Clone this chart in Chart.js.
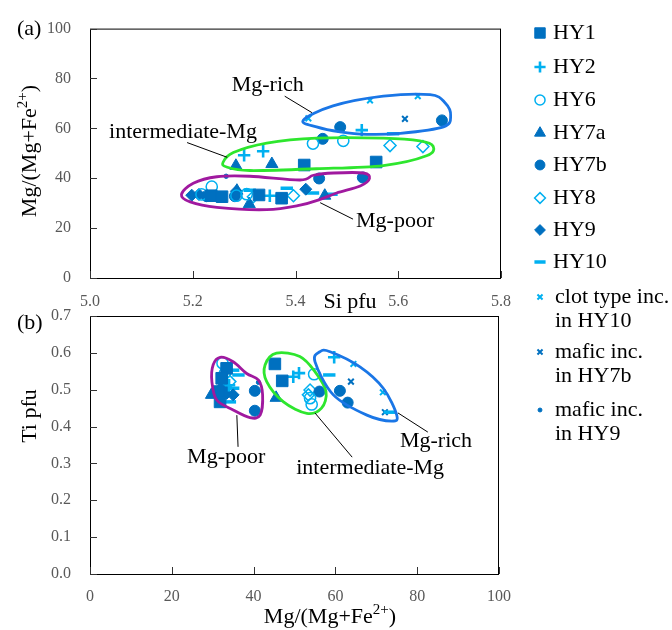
<!DOCTYPE html>
<html lang="en">

<head>
  <meta charset="UTF-8" />
  <title>Mg-number, Si and Ti of amphiboles</title>
  <style>
    body {
      margin: 0;
      background: #ffffff;
    }

    .wrap {
      position: relative;
      width: 672px;
      height: 630px;
    }

    .wrap canvas {
      position: absolute;
      left: 0;
      top: 0;
    }
  </style>
</head>

<body>
  <div class="wrap">
    <canvas id="chartA" width="672" height="630"></canvas>
    <canvas id="chartB" width="672" height="630"></canvas>
  </div>

  <script src="https://cdn.jsdelivr.net/npm/chart.js@4"></script>
  <script>
    // ---- data, panel (a): [Si pfu, Mg/(Mg+Fe2+)] ----
    const hy1A = [[5.236, 33.0], [5.257, 32.6], [5.329, 33.3], [5.373, 32.0], [5.417, 45.3], [5.557, 46.5]];
    const hy2A = [[5.300, 49.2], [5.337, 50.8], [5.529, 59.3], [5.350, 33.0]];
    const hy6A = [[5.217, 33.5], [5.237, 36.6], [5.285, 33.0], [5.305, 33.6], [5.434, 53.9], [5.493, 55.0]];
    const hy7aA = [[5.284, 45.0], [5.354, 45.7], [5.310, 29.6], [5.457, 33.0], [5.286, 35.0]];
    const hy7bA = [[5.227, 32.8], [5.282, 32.8], [5.446, 39.9], [5.531, 40.3], [5.453, 55.8], [5.487, 60.5], [5.685, 63.2]];
    const hy8A = [[5.318, 32.6], [5.396, 33.0], [5.584, 53.1], [5.648, 52.7]];
    const hy9A = [[5.198, 33.2], [5.212, 33.5], [5.285, 34.8], [5.420, 35.6]];
    const hy10A = [[5.311, 35.2], [5.383, 36.0], [5.434, 34.1], [5.470, 33.6], [5.590, 57.8]];
    const clotA = [[5.425, 64.0], [5.545, 71.2], [5.638, 72.9]];
    const mafic7bA = [[5.613, 63.8]];
    const mafic9A = [[5.265, 40.8]];

    // ---- data, panel (b): [Mg/(Mg+Fe2+), Ti pfu] ----
    const hy1B = [[33.4, 0.558], [32.2, 0.531], [31.4, 0.495], [31.8, 0.467], [45.2, 0.570], [47.0, 0.524]];
    const hy2B = [[34.0, 0.512], [49.7, 0.535], [51.1, 0.545], [59.7, 0.588]];
    const hy6B = [[32.4, 0.572], [33.0, 0.545], [54.8, 0.542], [54.2, 0.460], [53.8, 0.477]];
    const hy7aB = [[29.7, 0.486], [32.5, 0.500], [45.5, 0.478]];
    const hy7bB = [[32.4, 0.504], [40.3, 0.497], [40.3, 0.443], [56.1, 0.495], [61.1, 0.497], [63.0, 0.465]];
    const hy8B = [[34.2, 0.522], [53.8, 0.499], [53.4, 0.486]];
    const hy9B = [[35.0, 0.486], [33.4, 0.490]];
    const hy10B = [[35.0, 0.553], [36.3, 0.540], [35.0, 0.504], [34.2, 0.467], [58.5, 0.540], [73.3, 0.439]];
    const clotB = [[64.4, 0.570], [71.6, 0.493]];
    const mafic7bB = [[63.8, 0.522], [72.1, 0.439]];
    const mafic9B = [[41.2, 0.520]];

    // tick values
    const siTicks = [5.0, 5.2, 5.4, 5.6, 5.8];
    const mgTicks = [0, 20, 40, 60, 80, 100];
    const tiTicks = [0, 0.1, 0.2, 0.3, 0.4, 0.5, 0.6, 0.7];

    // group outlines (data coords)
    const richA = [[5.415, 63.2], [5.473, 69.0], [5.571, 72.9], [5.662, 73.5], [5.691, 70.3], [5.702, 65.1], [5.688, 60.6], [5.604, 58.0], [5.539, 57.6], [5.487, 58.6], [5.441, 60.6]];
    const interA = [[5.259, 46.4], [5.279, 50.3], [5.344, 54.1], [5.441, 56.1], [5.571, 56.1], [5.642, 55.0], [5.668, 52.8], [5.655, 49.0], [5.571, 45.1], [5.441, 43.8], [5.311, 43.1], [5.266, 44.5]];
    const poorA = [[5.178, 33.5], [5.201, 38.0], [5.247, 40.6], [5.311, 40.8], [5.409, 39.3], [5.435, 41.2], [5.474, 42.1], [5.532, 42.1], [5.544, 39.9], [5.526, 36.9], [5.480, 34.1], [5.448, 31.5], [5.409, 29.2], [5.344, 27.4], [5.247, 28.3], [5.195, 30.5]];
    const poorB = [[31.8, 0.588], [35.0, 0.576], [38.3, 0.544], [41.2, 0.526], [42.2, 0.486], [41.6, 0.431], [39.1, 0.424], [35.0, 0.445], [31.0, 0.472], [29.8, 0.522], [30.1, 0.567]];
    const interB = [[45.6, 0.599], [51.3, 0.590], [55.0, 0.549], [57.7, 0.495], [56.6, 0.450], [53.0, 0.436], [47.3, 0.467], [43.2, 0.522], [42.8, 0.567]];
    const richB = [[56.2, 0.603], [58.7, 0.603], [66.0, 0.562], [71.7, 0.504], [75.0, 0.431], [73.8, 0.415], [67.7, 0.431], [59.5, 0.486], [55.0, 0.576]];

    const DARK = '#0070C0';
    const LIGHT = '#00B0F0';
    const SERIF = "'Liberation Serif', 'Times New Roman', serif";
    const TICK_GREY = '#595959';

    const series = [
      { label: ['HY1'], a: hy1A, b: hy1B, style: 'rect', r: 8.2, bw: 1, color: DARK, fill: DARK },
      { label: ['HY2'], a: hy2A, b: hy2B, style: 'cross', r: 6.2, bw: 2.6, color: LIGHT, fill: LIGHT },
      { label: ['HY6'], a: hy6A, b: hy6B, style: 'circle', r: 5.6, bw: 1.5, color: LIGHT, fill: 'rgba(0,0,0,0)' },
      { label: ['HY7a'], a: hy7aA, b: hy7aB, style: 'triangle', r: 7, bw: 1, color: DARK, fill: DARK },
      { label: ['HY7b'], a: hy7bA, b: hy7bB, style: 'circle', r: 5.5, bw: 1, color: DARK, fill: DARK },
      { label: ['HY8'], a: hy8A, b: hy8B, style: 'rectRot', r: 6, bw: 1.5, color: LIGHT, fill: 'rgba(0,0,0,0)' },
      { label: ['HY9'], a: hy9A, b: hy9B, style: 'rectRot', r: 6, bw: 1, color: DARK, fill: DARK },
      { label: ['HY10'], a: hy10A, b: hy10B, style: 'line', r: 6.2, bw: 3.5, color: LIGHT, fill: LIGHT },
      { label: ['clot type inc.', 'in HY10'], a: clotA, b: clotB, style: 'crossRot', r: 4, bw: 2, color: LIGHT, fill: LIGHT },
      { label: ['mafic inc.', 'in HY7b'], a: mafic7bA, b: mafic7bB, style: 'crossRot', r: 4, bw: 2, color: DARK, fill: DARK },
      { label: ['mafic inc.', 'in HY9'], a: mafic9A, b: mafic9B, style: 'circle', r: 2.2, bw: 1, color: DARK, fill: DARK }
    ];

    const legendRows = [33, 67, 100, 133, 165, 198, 230, 262, 297, 352, 410];

    function makeDatasets(key) {
      return series.map(s => ({
        label: s.label.join(' '),
        data: s[key].map(p => ({ x: p[0], y: p[1] })),
        showLine: false,
        pointStyle: s.style,
        pointRadius: s.r,
        pointBorderWidth: s.bw,
        pointBorderColor: s.color,
        pointBackgroundColor: s.fill
      }));
    }

    function closedCurve(ctx, pts) {
      const n = pts.length;
      ctx.beginPath();
      ctx.moveTo(pts[0][0], pts[0][1]);
      for (let i = 0; i < n; i++) {
        const p0 = pts[(i - 1 + n) % n], p1 = pts[i], p2 = pts[(i + 1) % n], p3 = pts[(i + 2) % n];
        ctx.bezierCurveTo(
          p1[0] + (p2[0] - p0[0]) / 6, p1[1] + (p2[1] - p0[1]) / 6,
          p2[0] - (p3[0] - p1[0]) / 6, p2[1] - (p3[1] - p1[1]) / 6,
          p2[0], p2[1]);
      }
      ctx.closePath();
      ctx.stroke();
    }

    // text with optional superscript parts, centred on (x, y) baseline
    function richText(ctx, parts, x, y, rotate) {
      ctx.save();
      ctx.translate(x, y);
      if (rotate) ctx.rotate(-Math.PI / 2);
      ctx.fillStyle = '#000';
      ctx.textAlign = 'left';
      ctx.textBaseline = 'alphabetic';
      let w = 0;
      parts.forEach(p => {
        ctx.font = (p[1] ? '15px ' : '22px ') + SERIF;
        w += ctx.measureText(p[0]).width;
      });
      let cx = -w / 2;
      parts.forEach(p => {
        ctx.font = (p[1] ? '15px ' : '22px ') + SERIF;
        ctx.fillText(p[0], cx, p[1] ? -9 : 0);
        cx += ctx.measureText(p[0]).width;
      });
      ctx.restore();
    }

    const MG_TITLE = [['Mg/(Mg+Fe', false], ['2+', true], [')', false]];

    const deco = {
      id: 'deco',
      afterDatasetsDraw(chart, args, opts) {
        const { ctx, scales: { x, y } } = chart;
        ctx.save();
        ctx.lineWidth = 2.8;
        ctx.lineJoin = 'round';
        opts.outlines.forEach(o => {
          ctx.strokeStyle = o.color;
          closedCurve(ctx, o.pts.map(p => [x.getPixelForValue(p[0]), y.getPixelForValue(p[1])]));
        });
        ctx.restore();
      },
      afterDraw(chart, args, opts) {
        const { ctx, chartArea: a, scales: { x, y } } = chart;
        ctx.save();
        // frame
        ctx.strokeStyle = '#000';
        ctx.lineWidth = 1;
        ctx.strokeRect(a.left + 0.5, a.top + 0.5, a.right - a.left - 1, a.bottom - a.top);
        // inward tick marks
        ctx.strokeStyle = '#333';
        ctx.beginPath();
        y.ticks.forEach(t => {
          const py = Math.round(y.getPixelForValue(t.value)) + 0.5;
          ctx.moveTo(a.left, py);
          ctx.lineTo(a.left + 7, py);
        });
        x.ticks.forEach(t => {
          const px = Math.round(x.getPixelForValue(t.value)) + 0.5;
          ctx.moveTo(px, a.bottom);
          ctx.lineTo(px, a.bottom - 7);
        });
        ctx.stroke();

        // group notes with leader lines
        ctx.strokeStyle = '#000';
        ctx.lineWidth = 1;
        ctx.fillStyle = '#000';
        ctx.font = '22px ' + SERIF;
        ctx.textAlign = 'center';
        ctx.textBaseline = 'middle';
        opts.notes.forEach(n => {
          ctx.fillText(n.text, x.getPixelForValue(n.at[0]), y.getPixelForValue(n.at[1]));
          ctx.beginPath();
          ctx.moveTo(x.getPixelForValue(n.from[0]), y.getPixelForValue(n.from[1]));
          ctx.lineTo(x.getPixelForValue(n.to[0]), y.getPixelForValue(n.to[1]));
          ctx.stroke();
        });

        // panel letter and axis titles
        ctx.textAlign = 'left';
        ctx.textBaseline = 'alphabetic';
        ctx.fillText(opts.panel, 17, opts.panelY);
        opts.titles.forEach(t => richText(ctx, t.parts, t.x, t.y, t.rotate));

        // legend (drawn once, by panel a)
        if (opts.legend) {
          series.forEach((s, i) => {
            const ly = legendRows[i];
            ctx.lineWidth = s.bw;
            ctx.strokeStyle = s.color;
            ctx.fillStyle = s.fill;
            Chart.helpers.drawPoint(ctx, { pointStyle: s.style, radius: s.r * 0.9, borderWidth: s.bw, rotation: 0 }, 540, ly);
            ctx.fillStyle = '#000';
            ctx.font = '22px ' + SERIF;
            ctx.textAlign = 'left';
            ctx.textBaseline = 'middle';
            s.label.forEach((line, k) => ctx.fillText(line, s.label.length > 1 ? 555 : 553, ly + k * 24.5));
          });
        }
        ctx.restore();
      }
    };

    function axis(ticksList, fmt, fit, pad) {
      return {
        type: 'linear',
        min: ticksList[0],
        max: ticksList[ticksList.length - 1],
        afterBuildTicks: scale => { scale.ticks = ticksList.map(v => ({ value: v })); },
        afterFit: fit,
        grid: { display: false, drawTicks: false },
        border: { display: false },
        ticks: {
          padding: pad,
          color: TICK_GREY,
          font: { family: SERIF, size: 16 },
          callback: fmt
        }
      };
    }

    const oneDecimal = v => Number(v).toFixed(1);
    const whole = v => String(Math.round(v));

    new Chart(document.getElementById('chartA'), {
      type: 'scatter',
      data: { datasets: makeDatasets('a') },
      options: {
        responsive: false,
        animation: false,
        events: [],
        layout: { padding: { left: 0, top: 20, right: 171, bottom: 322 } },
        scales: {
          x: axis(siTicks, oneDecimal, s => { s.height = 30; }, 14),
          y: axis(mgTicks, whole, s => { s.width = 90; }, 19)
        },
        plugins: {
          legend: { display: false },
          tooltip: { enabled: false },
          deco: {
            panel: '(a)',
            panelY: 35,
            legend: true,
            outlines: [
              { pts: richA, color: '#1A76E6' },
              { pts: interA, color: '#2EE62E' },
              { pts: poorA, color: '#A0199F' }
            ],
            notes: [
              { text: 'Mg-rich', at: [5.346, 77.1], from: [5.379, 72.9], to: [5.432, 66.3] },
              { text: 'intermediate-Mg', at: [5.181, 58.5], from: [5.189, 54.3], to: [5.267, 48.4] },
              { text: 'Mg-poor', at: [5.594, 22.9], from: [5.512, 23.6], to: [5.448, 30.2] }
            ],
            titles: [
              { parts: MG_TITLE, x: 36, y: 151, rotate: true },
              { parts: [['Si pfu', false]], x: 350, y: 308, rotate: false }
            ]
          }
        }
      },
      plugins: [deco]
    });

    new Chart(document.getElementById('chartB'), {
      type: 'scatter',
      data: { datasets: makeDatasets('b') },
      options: {
        responsive: false,
        animation: false,
        events: [],
        layout: { padding: { left: 0, top: 316, right: 173, bottom: 26 } },
        scales: {
          x: axis(mgTicks, whole, s => { s.height = 30; }, 13),
          y: axis(tiTicks, oneDecimal, s => { s.width = 90; }, 19)
        },
        plugins: {
          legend: { display: false },
          tooltip: { enabled: false },
          deco: {
            panel: '(b)',
            panelY: 329,
            legend: false,
            outlines: [
              { pts: poorB, color: '#A0199F' },
              { pts: interB, color: '#2EE62E' },
              { pts: richB, color: '#1A76E6' }
            ],
            notes: [
              { text: 'Mg-poor', at: [33.3, 0.317], from: [35.9, 0.431], to: [36.2, 0.345] },
              { text: 'intermediate-Mg', at: [68.5, 0.288], from: [55.0, 0.437], to: [64.1, 0.317] },
              { text: 'Mg-rich', at: [84.6, 0.361], from: [75.3, 0.437], to: [82.6, 0.385] }
            ],
            titles: [
              { parts: [['Ti pfu', false]], x: 36, y: 416, rotate: true },
              { parts: MG_TITLE, x: 330, y: 623, rotate: false }
            ]
          }
        }
      },
      plugins: [deco]
    });
  </script>
</body>

</html>
